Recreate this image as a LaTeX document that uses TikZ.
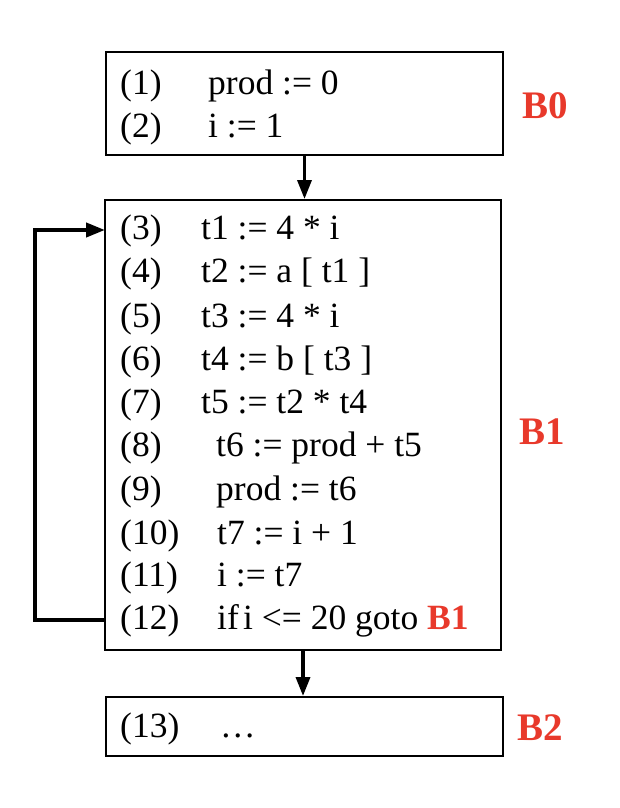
\documentclass[tikz,border=0pt]{standalone}
\usepackage{fontspec}
\setmainfont{Liberation Serif}
\usetikzlibrary{arrows.meta}
\definecolor{lblred}{HTML}{E8392B}
\begin{document}
\begin{tikzpicture}[x=1pt,y=-1pt,
  blockbox/.style={draw=black,line width=2pt,inner sep=0pt},
  code/.style={inner sep=0pt,anchor=base west,font=\fontsize{35.5}{40}\selectfont},
  blabel/.style={inner sep=0pt,text=lblred,font=\fontsize{39}{44}\selectfont\bfseries},
  arr/.style={line width=3.5pt,-{Triangle[length=19pt,width=14pt]}}]
\useasboundingbox (0,0) rectangle (620,808);
% boxes
\node[blockbox,minimum width=397pt,minimum height=103pt] (b0) at (304.5,103.5) {};
\node[blockbox,minimum width=396pt,minimum height=450pt] (b1) at (303,425) {};
\node[blockbox,minimum width=397pt,minimum height=59pt] (b2) at (304.5,726.5) {};
% B0 text
\node[code] (n1) at (120,94) {(1)};
\node[code] (s1) at (208,94) {prod := 0};
\node[code] (n2) at (120,137) {(2)};
\node[code] (s2) at (208,137) {i := 1};
% B1 text
\node[code] (n3) at (120,239) {(3)};
\node[code] (s3) at (201,239) {t1 := 4 * i};
\node[code] (n4) at (120,282) {(4)};
\node[code] (s4) at (201,282) {t2 := a [ t1 ]};
\node[code] (n5) at (120,327) {(5)};
\node[code] (s5) at (201,327) {t3 := 4 * i};
\node[code] (n6) at (120,370) {(6)};
\node[code] (s6) at (201,370) {t4 := b [ t3 ]};
\node[code] (n7) at (120,413) {(7)};
\node[code] (s7) at (201,413) {t5 := t2 * t4};
\node[code] (n8) at (120,456) {(8)};
\node[code] (s8) at (216,456) {t6 := prod + t5};
\node[code] (n9) at (120,500) {(9)};
\node[code] (s9) at (216,500) {prod := t6};
\node[code] (n10) at (120,544) {(10)};
\node[code] (s10) at (217,544) {t7 := i + 1};
\node[code] (n11) at (120,586) {(11)};
\node[code] (s11) at (217,586) {i := t7};
\node[code] (n12) at (120,629) {(12)};
\node[code] (s12) at (217,629) {if\hspace{0.12em}i <= 20 goto {\bfseries\color{lblred}B1}};
% B2 text
\node[code] (n13) at (120,737) {(13)};
\node[code] (s13) at (220,737) {\dots};
% block labels
\node[blabel] (l0) at (545,106) {B0};
\node[blabel] (l1) at (542,432) {B1};
\node[blabel] (l2) at (540,728) {B2};
% connectors
\coordinate (loopout) at (105,620);
\coordinate (loopin) at (105,230);
\draw[arr] (b0.south) -- (b0.south |- b1.north);
\draw[arr] (b1.south) -- (b1.south |- b2.north);
\draw[arr,line width=4pt] (loopout) -- (35,620) |- (loopin);
\end{tikzpicture}
\end{document}
